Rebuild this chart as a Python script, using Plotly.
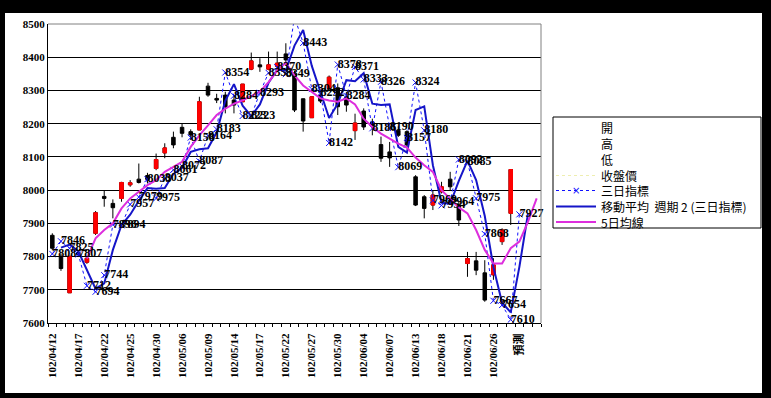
import plotly.graph_objects as go

# ---------------- data ----------------
dates = ["102/04/12", "102/04/15", "102/04/16", "102/04/17", "102/04/18", "102/04/19",
         "102/04/22", "102/04/23", "102/04/24", "102/04/25", "102/04/26", "102/04/29",
         "102/04/30", "102/05/02", "102/05/03", "102/05/06", "102/05/07", "102/05/08",
         "102/05/09", "102/05/10", "102/05/13", "102/05/14", "102/05/15", "102/05/16",
         "102/05/17", "102/05/20", "102/05/21", "102/05/22", "102/05/23", "102/05/24",
         "102/05/27", "102/05/28", "102/05/29", "102/05/30", "102/05/31", "102/06/03",
         "102/06/04", "102/06/05", "102/06/06", "102/06/07", "102/06/10", "102/06/11",
         "102/06/13", "102/06/14", "102/06/17", "102/06/18", "102/06/19", "102/06/20",
         "102/06/21", "102/06/24", "102/06/25", "102/06/26", "102/06/27", "102/06/28",
         "預測"]

opens = [7864, 7801, 7691, 7812, 7783, 7870, 7981, 7960, 7975, 8016,
         8033, 8044, 8065, 8112, 8159, 8189, 8176, 8181, 8313, 8276,
         8286, 8271, 8266, 8364, 8377, 8364, 8372, 8410, 8350, 8275,
         8218, 8286, 8306, 8308, 8281, 8179, 8238, 8205, 8137, 8115,
         8180, 8176, 8040, 7980, 7955, 7995, 8033, 7955, 7779, 7787,
         7751, 7745, 7845, 7930]
highs = [7870, 7809, 7801, 7818, 7798, 7937, 8000, 7972, 8025, 8030,
         8080, 8052, 8110, 8141, 8176, 8201, 8183, 8281, 8323, 8290,
         8296, 8286, 8319, 8414, 8397, 8417, 8417, 8442, 8360, 8276,
         8283, 8295, 8345, 8321, 8296, 8230, 8246, 8215, 8161, 8145,
         8192, 8180, 8045, 7985, 8000, 8025, 8055, 7965, 7814, 7814,
         7789, 7795, 7885, 8062]
lows = [7819, 7757, 7691, 7800, 7778, 7865, 7950, 7915, 7965, 8010,
        8020, 8020, 8060, 8096, 8126, 8159, 8151, 8181, 8281, 8262,
        8231, 8231, 8266, 8361, 8356, 8361, 8365, 8377, 8235, 8176,
        8218, 8262, 8300, 8226, 8236, 8151, 8181, 8165, 8085, 8070,
        8160, 8130, 7952, 7915, 7940, 7990, 8000, 7892, 7739, 7744,
        7664, 7730, 7835, 7895]
closes = [7825, 7764, 7801, 7806, 7795, 7932, 7975, 7947, 8023, 8022,
          8023, 8032, 8092, 8127, 8136, 8171, 8166, 8266, 8286, 8271,
          8251, 8256, 8319, 8389, 8371, 8377, 8382, 8392, 8241, 8208,
          8281, 8268, 8340, 8251, 8256, 8202, 8190, 8193, 8096, 8097,
          8165, 8136, 7955, 7945, 7985, 8010, 8010, 7910, 7794, 7759,
          7669, 7775, 7880, 8062]

# 三日指標 (one value per category, last one is the forecast)
tri = [7808, 7846, 7825, 7807, 7712, 7694, 7744, 7896, 7894, 7957,
       7979, 8033, 7975, 8037, 8061, 8072, 8158, 8087, 8164, 8183,
       8354, 8284, 8223, 8223, 8293, 8353, 8370, 8349, 8521, 8443,
       8304, 8292, 8142, 8378, 8284, 8371, 8333, 8186, 8326, 8190,
       8069, 8157, 8324, 8180, 7969, 7954, 7964, 8092, 8085, 7975,
       7868, 7667, 7654, 7610, 7927]
tri_label_hidden = [28]          # this label lies outside the plot in the reference

# 移動平均 週期 2 (三日指標) as drawn
ma2 = [None, 7827, 7836, 7816, 7760, 7703, 7719, 7820, 7895, 7926,
       7968, 8006, 8004, 8006, 8049, 8067, 8115, 8123, 8126, 8174,
       8269, 8319, 8254, 8223, 8258, 8323, 8362, 8360, 8435, 8482,
       8374, 8298, 8217, 8260, 8331, 8328, 8352, 8260, 8256, 8258,
       8130, 8113, 8241, 8252, 8075, 7962, 7959, 8028, 8089, 8030,
       7922, 7768, 7661, 7632, 7769, 7930]

# 5日均線 as drawn
ma5 = [None, None, None, None,
       7794, 7855, 7880, 7900, 7945, 7975, 7995, 8015, 8030, 8055,
       8070, 8085, 8130, 8165, 8195, 8226, 8245, 8260, 8270, 8283,
       8296, 8325, 8360, 8383, 8345, 8315, 8296, 8276, 8270, 8266,
       8276, 8258, 8215, 8190, 8170, 8155, 8140, 8128, 8098, 8075,
       8055, 8000, 7975, 7948, 7930, 7880, 7820, 7779, 7779, 7825,
       7845, 7905, 7975]

y_ticks = [7600, 7700, 7800, 7900, 8000, 8100, 8200, 8300, 8400, 8500]
legend_names = ["開", "高", "低", "收盤價", "三日指標", "移動平均  週期 2 (三日指標)", "5日均線"]

N_SLOTS = 57  # category slots on the axis (two empty after the forecast)

# ---------------- styling ----------------
W, H = 771, 398
ML, MR, MT, MB = 48, 230, 24, 75
PW, PH = W - ML - MR, H - MT - MB
BLUE_DOT = "#1010ff"
BLUE_MA = "#1515c8"
MAGENTA = "#dd2edd"
NUM_FONT = "Liberation Serif, DejaVu Serif, serif"
CJK_FONT = "Noto Sans CJK TC, Noto Sans CJK SC, sans-serif"


def px_x(p):
    return (p - ML) / PW


def px_y(p):
    return (H - MB - p) / PH


xs_c = list(range(len(opens)))
xs_t = list(range(len(tri)))
xs_m2 = list(range(len(ma2)))
xs_m5 = list(range(len(ma5)))

fig = go.Figure()

# all candles: black wicks / bodies
fig.add_trace(go.Candlestick(
    x=xs_c, open=opens, high=highs, low=lows, close=closes,
    increasing=dict(line=dict(color="black", width=1), fillcolor="black"),
    decreasing=dict(line=dict(color="black", width=1), fillcolor="black"),
    showlegend=False, hoverinfo="skip"))

# red bodies for rising days drawn over the black ones
up_o = [o if c > o else None for o, c in zip(opens, closes)]
up_c = [c if c > o else None for o, c in zip(opens, closes)]
fig.add_trace(go.Candlestick(
    x=xs_c, open=up_o, high=up_c, low=up_o, close=up_c,
    increasing=dict(line=dict(color="#ff0000", width=1), fillcolor="#ff0000"),
    decreasing=dict(line=dict(color="#ff0000", width=1), fillcolor="#ff0000"),
    showlegend=False, hoverinfo="skip"))

# 三日指標
fig.add_trace(go.Scatter(
    x=xs_t, y=tri, mode="lines+markers", cliponaxis=False,
    line=dict(color=BLUE_DOT, width=1, dash="dot"),
    marker=dict(symbol="x-thin", size=6, line=dict(color=BLUE_DOT, width=1)),
    showlegend=False, hoverinfo="skip"))

# 移動平均 週期 2
fig.add_trace(go.Scatter(
    x=xs_m2, y=ma2, mode="lines", cliponaxis=False,
    line=dict(color=BLUE_MA, width=2), showlegend=False, hoverinfo="skip"))

# 5日均線
fig.add_trace(go.Scatter(
    x=xs_m5, y=ma5, mode="lines", cliponaxis=False,
    line=dict(color=MAGENTA, width=2), showlegend=False, hoverinfo="skip"))

# data labels of 三日指標 on top
labels = ["" if i in tri_label_hidden else str(v) for i, v in enumerate(tri)]
fig.add_trace(go.Scatter(
    x=xs_t, y=tri, mode="text", text=labels, textposition="middle right",
    cliponaxis=False,
    textfont=dict(family=NUM_FONT, size=12, color="black", weight="bold"),
    showlegend=False, hoverinfo="skip"))

shapes = [
    # white chart area on black background
    dict(type="rect", xref="paper", yref="paper", layer="below",
         x0=px_x(5), x1=px_x(762), y0=px_y(393), y1=px_y(13),
         fillcolor="white", line=dict(width=0)),
    # grey plot border (top and right)
    dict(type="line", xref="paper", yref="paper", x0=0, x1=1, y0=1, y1=1,
         line=dict(color="#808080", width=1)),
    dict(type="line", xref="paper", yref="paper", x0=1, x1=1, y0=0, y1=1,
         line=dict(color="#808080", width=1)),
    # legend box
    dict(type="rect", xref="paper", yref="paper",
         x0=px_x(553), x1=px_x(761), y0=px_y(228), y1=px_y(117),
         fillcolor="white", line=dict(color="black", width=1)),
]

row_y = [127.5, 143.5, 159.5, 175.5, 190.5, 206.5, 222]
sample_styles = [None, None, None,
                 dict(color="#eeeeb0", width=1, dash="dot"),
                 dict(color=BLUE_DOT, width=1, dash="dot"),
                 dict(color=BLUE_MA, width=2),
                 dict(color=MAGENTA, width=2)]
annotations = []
for name, yy, st in zip(legend_names, row_y, sample_styles):
    if st is not None:
        shapes.append(dict(type="line", xref="paper", yref="paper",
                           x0=px_x(556), x1=px_x(596), y0=px_y(yy), y1=px_y(yy),
                           line=st))
    annotations.append(dict(xref="paper", yref="paper", x=px_x(599), y=px_y(yy),
                            text=name, showarrow=False, xanchor="left", yanchor="middle",
                            font=dict(family=CJK_FONT, size=12, color="black")))
annotations.append(dict(xref="paper", yref="paper", x=px_x(576), y=px_y(row_y[4]),
                        text="×", showarrow=False, xanchor="center", yanchor="middle",
                        font=dict(family="DejaVu Sans", size=10, color=BLUE_DOT)))

fig.update_layout(
    width=W, height=H,
    margin=dict(l=ML, r=MR, t=MT, b=MB, pad=0),
    paper_bgcolor="black", plot_bgcolor="white",
    showlegend=False, boxgap=0.42,
    shapes=shapes, annotations=annotations,
    xaxis=dict(
        type="linear", range=[-0.5, N_SLOTS - 0.5],
        tickmode="array", tickvals=xs_t[::3], ticktext=dates[::3],
        tickangle=-90, ticks="", ticklabelstandoff=5,
        tickfont=dict(family=NUM_FONT + ", " + CJK_FONT, size=11, color="black",
                      weight="bold"),
        showline=True, linecolor="black", linewidth=1, mirror=False,
        showgrid=False, zeroline=False, rangeslider=dict(visible=False),
        minor=dict(tickmode="array", tickvals=[i - 0.5 for i in range(N_SLOTS + 1)],
                   ticks="outside", ticklen=3, tickcolor="black", tickwidth=1,
                   showgrid=False),
    ),
    yaxis=dict(
        range=[y_ticks[0], y_ticks[-1]], tickmode="array", tickvals=y_ticks,
        ticks="", showgrid=True, gridcolor="black", gridwidth=1,
        showline=True, linecolor="black", linewidth=1, zeroline=False,
        tickfont=dict(family=NUM_FONT, size=11, color="black", weight="bold"),
    ),
)

fig.write_html(
    "out.html",
    config={"displayModeBar": False},
    post_script="document.body.style.margin='0px';document.body.style.padding='0px';",
)
